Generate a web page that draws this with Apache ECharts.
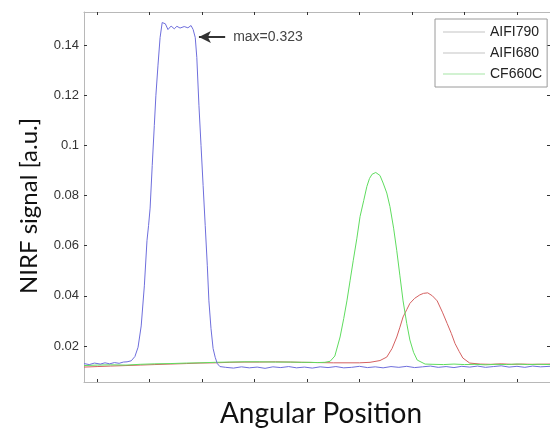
<!DOCTYPE html>
<html>
<head>
<meta charset="utf-8">
<script src="https://cdn.jsdelivr.net/npm/echarts@6/dist/echarts.min.js"></script>
<style>html,body{margin:0;padding:0;background:#fff}#c{width:550px;height:428px}</style>
</head>
<body>
<div id="c"></div>
<script>
// ---- data (angular position in tick units, NIRF signal in a.u.) ----
const seriesNames = ['AIFI790', 'AIFI680', 'CF660C'];
const yTickValues = [0.02, 0.04, 0.06, 0.08, 0.1, 0.12, 0.14];
const xTickValues = [0, 1, 2, 3, 4, 5, 6, 7, 8];

const blueX = [-0.25,-0.15,-0.05,0.06,0.15,0.24,0.33,0.42,0.50,0.57,0.65,0.72,0.78,0.84,0.90,0.95,0.98,1.01,1.05,1.09,1.12,1.16,1.20,1.24,1.30,1.35,1.41,1.47,1.52,1.58,1.66,1.73,1.79,1.83,1.87,1.90,1.94,1.98,2.02,2.06,2.10,2.13,2.17,2.21,2.25,2.29,2.34,2.45,2.6,2.75,2.9,3.05,3.2,3.35,3.5,3.65,3.8,3.95,4.1,4.25,4.4,4.55,4.7,4.85,5.0,5.15,5.3,5.45,5.6,5.75,5.9,6.05,6.2,6.35,6.5,6.65,6.8,6.95,7.1,7.25,7.4,7.55,7.7,7.85,8.0,8.15,8.3,8.45,8.63];
const blueY = [0.0130,0.0126,0.0132,0.0128,0.0133,0.0129,0.0134,0.0131,0.0136,0.0137,0.0141,0.0158,0.0195,0.028,0.044,0.062,0.068,0.075,0.092,0.108,0.120,0.132,0.143,0.149,0.1485,0.1462,0.1476,0.1465,0.1475,0.1468,0.1474,0.1469,0.1478,0.1462,0.143,0.135,0.116,0.100,0.084,0.068,0.052,0.038,0.027,0.019,0.0155,0.0130,0.0118,0.0115,0.0112,0.0117,0.0113,0.0116,0.0111,0.0117,0.0114,0.0118,0.0113,0.0116,0.0112,0.0117,0.0114,0.0118,0.0113,0.0115,0.0119,0.0114,0.0117,0.0113,0.0118,0.0115,0.0119,0.0114,0.0117,0.0120,0.0115,0.0118,0.0114,0.0119,0.0116,0.0120,0.0115,0.0118,0.0121,0.0116,0.0119,0.0115,0.0120,0.0117,0.0119];

const greenX = [-0.25,0.0,0.25,0.55,0.82,1.1,1.39,1.7,1.96,2.25,2.53,2.8,3.1,3.4,3.68,3.9,4.06,4.2,4.34,4.44,4.53,4.63,4.70,4.76,4.82,4.88,4.95,5.01,5.08,5.14,5.19,5.24,5.31,5.39,5.45,5.52,5.58,5.65,5.71,5.77,5.83,5.90,5.96,6.03,6.10,6.25,6.4,6.6,6.8,7.0,7.2,7.4,7.6,7.8,8.0,8.2,8.4,8.63];
const greenY = [0.0122,0.0124,0.0125,0.0124,0.0127,0.0129,0.0130,0.0132,0.0133,0.0135,0.0136,0.0137,0.0137,0.0136,0.0136,0.0135,0.0135,0.0134,0.0135,0.0139,0.0160,0.0236,0.031,0.038,0.046,0.054,0.063,0.0716,0.078,0.0836,0.0868,0.0885,0.0892,0.0880,0.0850,0.0810,0.0756,0.067,0.058,0.048,0.038,0.029,0.0224,0.0175,0.0144,0.0128,0.0127,0.0126,0.0128,0.0126,0.0127,0.0125,0.0127,0.0126,0.0128,0.0126,0.0127,0.0126];

const redX = [-0.25,0.0,0.25,0.55,0.82,1.1,1.39,1.7,1.96,2.25,2.53,2.8,3.1,3.4,3.68,3.9,4.2,4.5,4.8,5.0,5.2,5.39,5.52,5.62,5.71,5.77,5.83,5.90,5.96,6.05,6.15,6.22,6.30,6.39,6.48,6.58,6.67,6.75,6.82,6.90,6.97,7.10,7.3,7.5,7.7,7.9,8.1,8.3,8.63];
const redY = [0.0116,0.0118,0.0120,0.0122,0.0124,0.0126,0.0128,0.0130,0.0132,0.0133,0.0135,0.0136,0.0136,0.0137,0.0136,0.0135,0.0134,0.0133,0.0133,0.0133,0.0135,0.0142,0.0156,0.019,0.0236,0.0275,0.0316,0.0345,0.037,0.039,0.0404,0.0410,0.0412,0.0400,0.0380,0.0335,0.0290,0.0250,0.0210,0.0178,0.0152,0.0132,0.0128,0.0127,0.0129,0.0127,0.0128,0.0127,0.0128];

const maxLabel = 'max=0.323';
const arrowFrom = [2.44, 0.1432];
const arrowTo = [1.94, 0.1432];

// ---- chart ----
const pair = (xs, ys) => xs.map((x, i) => [x, ys[i]]);
const chart = echarts.init(document.getElementById('c'));
const frameColor = '#b8b8b8';
const tickStyle = {show: true, inside: true, length: 3, lineStyle: {color: '#333', width: 1}};
const baseX = {type: 'value', min: -0.25, max: 8.63, splitLine: {show: false},
  axisLine: {show: true, onZero: false, lineStyle: {color: frameColor}},
  axisTick: Object.assign({customValues: xTickValues}, tickStyle),
  axisLabel: {show: false}};
const baseY = {type: 'value', min: 0.00565, max: 0.1532, splitLine: {show: false},
  axisLine: {show: true, onZero: false, lineStyle: {color: frameColor}},
  axisTick: Object.assign({customValues: yTickValues}, tickStyle)};

chart.setOption({
  animation: false,
  backgroundColor: '#fff',
  grid: {left: 84, top: 12, right: 0, bottom: 46, containLabel: false},
  xAxis: [
    Object.assign({position: 'bottom'}, baseX),
    Object.assign({position: 'top'}, baseX)
  ],
  yAxis: [
    Object.assign({position: 'left', axisLabel: {show: true, customValues: yTickValues, margin: 5,
      fontFamily: 'Arial, Liberation Sans', fontSize: 13, color: '#333',
      formatter: v => String(+v.toFixed(2))}}, baseY),
    Object.assign({position: 'right', axisLabel: {show: false}}, baseY)
  ],
  legend: {
    orient: 'vertical', left: 435, top: 19,
    borderColor: '#9a9a9a', borderWidth: 1, borderRadius: 0,
    padding: [6, 5, 6, 8], itemGap: 7, itemWidth: 42, itemHeight: 14,
    textStyle: {fontFamily: 'Arial, Liberation Sans', fontSize: 14, color: '#222'},
    data: [
      {name: seriesNames[0], icon: 'path://M0,0H42V1H0Z', itemStyle: {color: '#c4c4c4'}},
      {name: seriesNames[1], icon: 'path://M0,0H42V1H0Z', itemStyle: {color: '#c4c4c4'}},
      {name: seriesNames[2], icon: 'path://M0,0H42V1H0Z', itemStyle: {color: '#a6e6a6'}}
    ]
  },
  series: [
    {name: seriesNames[0], type: 'line', data: pair(blueX, blueY), symbol: 'none',
      lineStyle: {color: '#6e6edc', width: 1}, itemStyle: {color: '#6e6edc'}, z: 3,
      markLine: {silent: true, symbol: ['none', 'arrow'], symbolSize: [9, 12],
        lineStyle: {color: '#333', width: 2, type: 'solid'},
        label: {show: true, position: 'start', distance: 8, formatter: maxLabel,
          fontFamily: 'Arial, Liberation Sans', fontSize: 14, color: '#444'},
        data: [[{coord: arrowFrom}, {coord: arrowTo}]]}},
    {name: seriesNames[1], type: 'line', data: pair(redX, redY), symbol: 'none',
      lineStyle: {color: '#d46060', width: 1}, itemStyle: {color: '#d46060'}, z: 2},
    {name: seriesNames[2], type: 'line', data: pair(greenX, greenY), symbol: 'none',
      lineStyle: {color: '#5fdc5f', width: 1}, itemStyle: {color: '#5fdc5f'}, z: 2}
  ],
  graphic: [
    {type: 'text', x: 29, y: 206, rotation: Math.PI / 2,
      style: {text: 'NIRF signal [a.u.]', fontFamily: 'Lato, Open Sans, sans-serif', fontSize: 24,
        fill: '#111', align: 'center', verticalAlign: 'middle'}},
    {type: 'text', x: 321, y: 414,
      style: {text: 'Angular Position', fontFamily: 'Lato, Open Sans, sans-serif', fontSize: 28,
        fill: '#111', align: 'center', verticalAlign: 'middle'}}
  ]
});
</script>
</body>
</html>
